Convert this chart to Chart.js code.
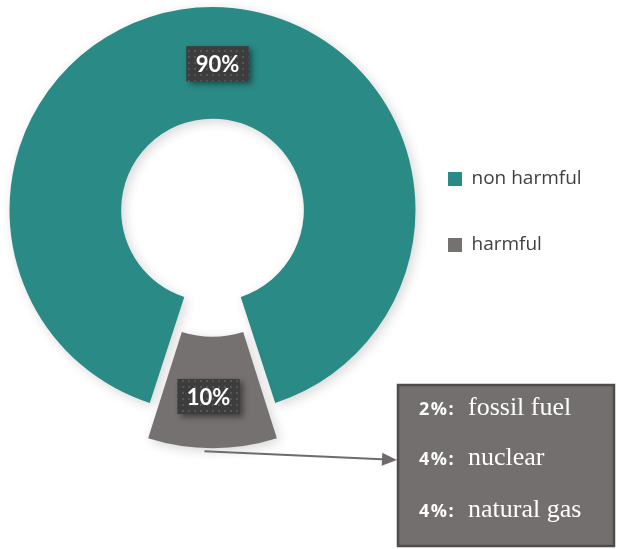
<!DOCTYPE html>
<html>
<head>
<meta charset="utf-8">
<script src="https://cdn.jsdelivr.net/npm/chart.js@4/dist/chart.umd.min.js"></script>
<style>
  html, body { margin: 0; padding: 0; background: #ffffff; }
  #wrap { width: 621px; height: 549px; position: relative; }
</style>
</head>
<body>
<div id="wrap"><canvas id="c" width="621" height="549"></canvas></div>
<script>
const categories = ['non harmful', 'harmful'];
const shares = [90, 10];
const sliceLabels = ['90%', '10%'];
const breakdownShares = ['2%:', '4%:', '4%:'];
const breakdownNames = ['fossil fuel', 'nuclear', 'natural gas'];

const TEAL = '#2a8a86';
const GREY = '#767171';

const legendFont = 19;
const legendFamily = '"Open Sans"';
const mctx = document.createElement('canvas').getContext('2d');
mctx.font = legendFont + 'px ' + legendFamily;
const tw = Math.max(...categories.map(c => mctx.measureText(c).width));
const legendPad = 47;
const rightPad = 139.5 - tw;

function dotPattern(ctx) {
  const p = document.createElement('canvas');
  p.width = 6; p.height = 6;
  const pc = p.getContext('2d');
  pc.fillStyle = '#3d3d3d';
  pc.fillRect(0, 0, 6, 6);
  pc.fillStyle = '#565656';
  pc.fillRect(2, 2, 2, 2);
  return ctx.createPattern(p, 'repeat');
}

// effective outward shift of an exploded arc as Chart.js draws it
function arcShift(arc) {
  const off = (arc.options.offset || 0) / 4;
  const circ = arc.circumference;
  const fix = 1 - Math.sin(Math.min(Math.PI, circ || 0));
  return off + off * fix;
}

const shadowPlugin = {
  id: 'shadow',
  beforeDatasetsDraw(chart) {
    const ctx = chart.ctx;
    ctx.save();
    ctx.shadowColor = 'rgba(0,0,0,0.16)';
    ctx.shadowBlur = 12;
    ctx.shadowOffsetX = 3;
    ctx.shadowOffsetY = 3;
  },
  afterDatasetsDraw(chart) {
    chart.ctx.restore();
  }
};

const annotatePlugin = {
  id: 'annotate',
  afterDraw(chart) {
    const ctx = chart.ctx;
    const meta = chart.getDatasetMeta(0);
    // arrow from harmful slice to breakdown box
    const harm = meta.data[1];
    const hp = harm.getProps(['x', 'y', 'startAngle', 'endAngle', 'outerRadius', 'innerRadius'], true);
    const hOff = arcShift(harm);
    const mid = (hp.startAngle + hp.endAngle) / 2;
    const sx = hp.x + Math.cos(mid) * (hp.outerRadius + hOff) - 8;
    const sy = hp.y + Math.sin(mid) * (hp.outerRadius + hOff) + 3;
    const boxL = 398, boxT = 385, boxR = 614, boxB = 546;
    const ex = boxL - 1, ey = 460;
    ctx.save();
    ctx.strokeStyle = '#6f6b6a';
    ctx.fillStyle = '#6f6b6a';
    ctx.lineWidth = 2;
    const ang = Math.atan2(ey - sy, ex - sx);
    const hl = 15, hw = 6.5;
    const bx = ex - Math.cos(ang) * hl, by = ey - Math.sin(ang) * hl;
    ctx.beginPath();
    ctx.moveTo(sx, sy);
    ctx.lineTo(bx, by);
    ctx.stroke();
    ctx.beginPath();
    ctx.moveTo(ex, ey);
    ctx.lineTo(bx - Math.sin(ang) * hw, by + Math.cos(ang) * hw);
    ctx.lineTo(bx + Math.sin(ang) * hw, by - Math.cos(ang) * hw);
    ctx.closePath();
    ctx.fill();
    ctx.restore();

    // breakdown box
    ctx.save();
    ctx.fillStyle = '#736f6e';
    ctx.fillRect(boxL, boxT, boxR - boxL, boxB - boxT);
    ctx.strokeStyle = '#4e4c4b';
    ctx.lineWidth = 2.5;
    ctx.strokeRect(boxL, boxT, boxR - boxL, boxB - boxT);
    ctx.fillStyle = '#ffffff';
    ctx.textBaseline = 'alphabetic';
    const rows = [415, 465, 517];
    breakdownShares.forEach((s, i) => {
      ctx.font = 'bold 18px "Open Sans"';
      ctx.letterSpacing = '1.5px';
      ctx.fillText(s, 419, rows[i]);
      ctx.letterSpacing = '0px';
      ctx.font = '26px "Liberation Serif"';
      ctx.fillText(breakdownNames[i], 468, rows[i]);
    });
    ctx.restore();

    // slice labels
    const pat = dotPattern(ctx);
    meta.data.forEach((arc, i) => {
      const p = arc.getProps(['x', 'y', 'startAngle', 'endAngle', 'outerRadius', 'innerRadius'], true);
      const a = (p.startAngle + p.endAngle) / 2;
      const r = (p.innerRadius + p.outerRadius) / 2 + arcShift(arc);
      const cx = p.x + Math.cos(a) * r + (i === 0 ? 5 : -4);
      const cy = p.y + Math.sin(a) * r + (i === 0 ? 1 : 4);
      const w = 62, h = 35;
      ctx.save();
      ctx.shadowColor = 'rgba(0,0,0,0.45)';
      ctx.shadowBlur = 6;
      ctx.shadowOffsetX = 3;
      ctx.shadowOffsetY = 3;
      ctx.fillStyle = '#3d3d3d';
      ctx.fillRect(cx - w / 2, cy - h / 2, w, h);
      ctx.restore();
      ctx.save();
      ctx.fillStyle = pat;
      ctx.fillRect(cx - w / 2, cy - h / 2, w, h);
      ctx.fillStyle = '#ffffff';
      ctx.font = 'bold 22px Lato';
      ctx.textAlign = 'center';
      ctx.textBaseline = 'middle';
      ctx.fillText(sliceLabels[i], cx, cy + 1);
      ctx.restore();
    });
  }
};

new Chart(document.getElementById('c'), {
  type: 'doughnut',
  data: {
    labels: categories,
    datasets: [{
      data: shares,
      backgroundColor: [TEAL, GREY],
      borderWidth: 0,
      offset: [0, 100],
      hoverOffset: 0
    }]
  },
  options: {
    responsive: false,
    animation: false,
    rotation: 198,
    cutout: '45%',
    radius: 203,
    layout: { padding: { left: 24, right: rightPad, top: -4, bottom: 129 } },
    plugins: {
      tooltip: { enabled: false },
      legend: {
        position: 'right',
        align: 'center',
        title: { display: true, text: '', font: { size: 6.67 }, padding: 0 },
        labels: {
          boxWidth: 14,
          boxHeight: 14,
          padding: legendPad,
          color: '#404040',
          font: { family: 'Open Sans', size: legendFont }
        }
      }
    }
  },
  plugins: [shadowPlugin, annotatePlugin]
});
</script>
</body>
</html>
